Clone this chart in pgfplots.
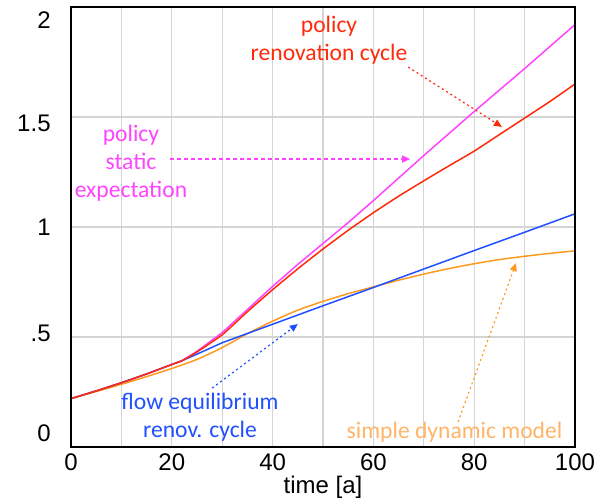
\documentclass[border=0pt]{standalone}
\usepackage{pgfplots}
\pgfplotsset{compat=1.18}
\usepackage{fontspec}
\setmainfont{Liberation Sans}
\newfontfamily\annfont{Carlito}
\usetikzlibrary{arrows.meta}
\definecolor{cmag}{HTML}{FF44FF}
\definecolor{cred}{HTML}{FF2A0A}
\definecolor{cblue}{HTML}{2050FF}
\definecolor{corange}{HTML}{FF9A20}
\definecolor{corangetxt}{HTML}{FFB468}
\definecolor{gridgray}{HTML}{D4D4D4}
\begin{document}
\begin{tikzpicture}
\begin{axis}[
  scale only axis, width=252pt, height=220pt,
  xmin=0, xmax=100, ymin=0, ymax=2,
  xtick={0,20,...,100}, minor xtick={10,30,...,90},
  ytick={0,0.5,1,1.5,2},
  yticklabels={{\raisebox{2.7pt}[0pt][0pt]{0}},{\raisebox{-2.3pt}[0pt][0pt]{.5}},{\raisebox{-4.3pt}[0pt][0pt]{1}},{\raisebox{-7.3pt}[0pt][0pt]{1.5}},{\raisebox{-10.8pt}[0pt][0pt]{2}}},
  yticklabel style={anchor=east, xshift=-10pt, inner sep=0pt},
  grid=both,
  major grid style={gridgray, line width=0.6pt},
  minor grid style={gridgray, line width=0.6pt},
  axis line style={draw=black, line width=1.2pt},
  major tick length=0pt, minor tick length=0pt,
  tick label style={font=\fontsize{12}{14}\selectfont},
  /pgf/number format/assume math mode=true,
  xlabel={time [a]},
  every axis x label/.style={at={(axis description cs:0.5,0)}, anchor=center, yshift=-20pt, font=\fontsize{12}{14}\selectfont},
  clip mode=individual,
]
\addplot[cmag, line width=0.75pt] coordinates {
(0,0.22) (5,0.255) (10,0.292) (15,0.332) (20,0.375) (22,0.392) (25,0.435) (30,0.52) (35,0.625) (40,0.73) (45,0.83) (50,0.925) (55,1.02) (60,1.12) (70,1.325) (80,1.525) (90,1.72) (100,1.92)};
\addplot[corange, line width=0.75pt, smooth, tension=0.4] coordinates {
(0,0.22) (5,0.252) (10,0.285) (15,0.32) (20,0.357) (25,0.398) (30,0.452) (35,0.515) (40,0.572) (45,0.622) (50,0.662) (55,0.697) (60,0.728) (65,0.758) (70,0.786) (75,0.811) (80,0.833) (85,0.852) (90,0.867) (95,0.88) (100,0.892)};
\addplot[cblue, line width=0.75pt] coordinates {
(0,0.22) (5,0.255) (10,0.292) (15,0.332) (20,0.375) (22,0.392) (25,0.422) (30,0.474) (35,0.516) (40,0.558) (50,0.642) (60,0.725) (70,0.809) (80,0.893) (90,0.976) (100,1.06)};
\addplot[cred, line width=0.75pt, smooth, tension=0.3] coordinates {
(0,0.22) (5,0.255) (10,0.292) (15,0.332) (20,0.375) (22,0.392) (25,0.432) (30,0.51) (35,0.615) (40,0.715) (45,0.81) (50,0.9) (55,0.985) (60,1.065) (65,1.14) (70,1.21) (75,1.278) (80,1.345) (85,1.42) (90,1.495) (95,1.57) (100,1.65)};
% annotations
\node[align=center, text=cred, font=\annfont\fontsize{11.8}{14}\selectfont] at (axis cs:51.2,1.85) {policy\\renovation cycle};
\draw[cred, line width=0.6pt, dash pattern=on 1pt off 1.5pt, -{Triangle[length=4pt,width=3.5pt]}] (axis cs:66.9,1.727) -- (axis cs:85.5,1.455);
\node[align=center, text=cmag, font=\annfont\fontsize{11.8}{14}\selectfont] at (axis cs:11.9,1.29) {policy\\static\\expectation};
\draw[cmag, line width=0.6pt, dash pattern=on 2pt off 1.5pt, -{Triangle[length=4pt,width=3.5pt]}] (axis cs:19.6,1.309) -- (axis cs:67.3,1.309);
\node[align=center, text=cblue, font=\annfont\fontsize{11.8}{14}\selectfont] at (axis cs:25.6,0.134) {flow equilibrium\\renov. cycle};
\draw[cblue, line width=0.6pt, dash pattern=on 1pt off 1.5pt, -{Triangle[length=4pt,width=3.5pt]}] (axis cs:28.0,0.268) -- (axis cs:45.0,0.559);
\node[align=center, text=corangetxt, font=\annfont\fontsize{11.8}{14}\selectfont] at (axis cs:76.1,0.068) {simple dynamic model};
\draw[corange, line width=0.6pt, dash pattern=on 1pt off 1.5pt, -{Triangle[length=4pt,width=3.5pt]}] (axis cs:76.8,0.114) -- (axis cs:88.3,0.836);
\coordinate (SW) at (rel axis cs:0,0);
\coordinate (NE) at (rel axis cs:1,1);
\end{axis}
\draw[draw=black, line width=1.2pt] (SW) rectangle (NE);
\pgfresetboundingbox
\path ([xshift=-35.5pt,yshift=-26pt]SW) rectangle ([xshift=10pt,yshift=3.5pt]NE);
\end{tikzpicture}
\end{document}
